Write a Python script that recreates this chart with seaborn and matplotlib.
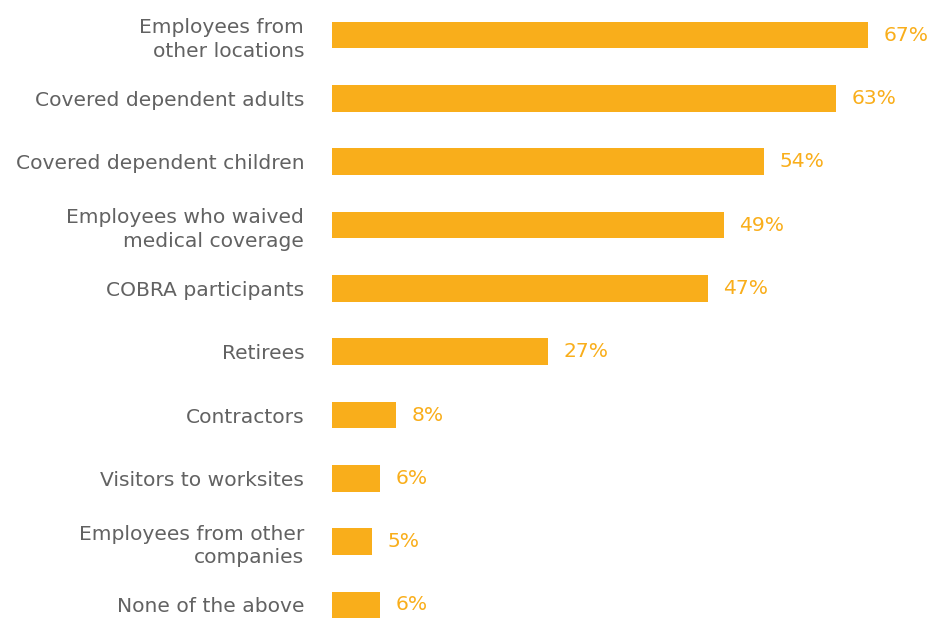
import matplotlib
matplotlib.use("Agg")
import matplotlib.pyplot as plt
import seaborn as sns
import pandas as pd

categories = [
    "Employees from\nother locations",
    "Covered dependent adults",
    "Covered dependent children",
    "Employees who waived\nmedical coverage",
    "COBRA participants",
    "Retirees",
    "Contractors",
    "Visitors to worksites",
    "Employees from other\ncompanies",
    "None of the above",
]
values = [67, 63, 54, 49, 47, 27, 8, 6, 5, 6]

BAR = "#F9AE1B"
TEXT = "#626262"

sns.set_theme(style="white")
plt.rcParams["font.family"] = ["DejaVu Sans"]

df = pd.DataFrame({"group": categories, "pct": values})

fig = plt.figure(figsize=(9.28, 6.18), dpi=100)
ax = fig.add_axes([332 / 928, 0, (928 - 332) / 928, 1])

sns.barplot(data=df, x="pct", y="group", orient="h", color=BAR,
            width=0.426, saturation=1, linewidth=0, edgecolor="none", ax=ax)

ax.set_xlim(0, (928 - 332) / 8)
ax.set_ylim(9 + 13 / 63.33, -35 / 63.33)
ax.set_xlabel("")
ax.set_ylabel("")
ax.set_xticks([])
ax.tick_params(axis="y", length=0, pad=20, labelsize=14.6, labelcolor=TEXT)
for lbl in ax.get_yticklabels():
    lbl.set_linespacing(1.32)
for s in ax.spines.values():
    s.set_visible(False)

for i, v in enumerate(values):
    ax.annotate(f"{v}%", xy=(v, i), xytext=(11, 0), textcoords="offset points",
                ha="left", va="center", fontsize=14.6, color=BAR)

fig.savefig("out.png", dpi=100)
